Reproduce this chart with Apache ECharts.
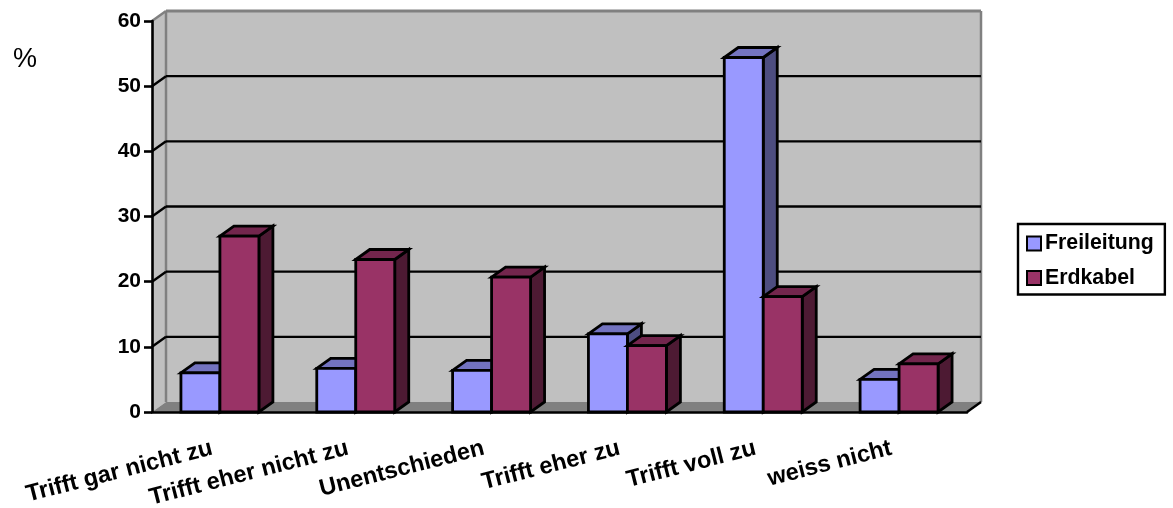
<!DOCTYPE html>
<html>
<head>
<meta charset="utf-8">
<style>html,body{margin:0;padding:0;background:#fff}#chart{width:1173px;height:508px}</style>
<script src="https://cdn.jsdelivr.net/npm/echarts@6/dist/echarts.min.js"></script>
</head>
<body>
<div id="chart"></div>
<script>
const categories = ['Trifft gar nicht zu', 'Trifft eher nicht zu', 'Unentschieden', 'Trifft eher zu', 'Trifft voll zu', 'weiss nicht'];
const freileitung = [6, 6.7, 6.4, 12, 54.4, 5];
const erdkabel = [27, 23.4, 20.7, 10.2, 17.7, 7.4];
const yTicks = [0, 10, 20, 30, 40, 50, 60];

const FONT = '"Liberation Sans", Arial, sans-serif';
const DEPTH_X = 14;   // receding offset of the pseudo-3D box
const DEPTH_Y = -10;
const BAR_SHARE = 0.287; // bar width as a share of the category band
const OUTLINE = 2.8;

const poly = (points, fill, stroke, lineWidth) => ({
  type: 'polygon',
  shape: { points },
  style: { fill, stroke: stroke || 'none', lineWidth: lineWidth || 0, lineJoin: 'miter' }
});
const seg = (x1, y1, x2, y2, stroke, lineWidth) => ({
  type: 'line',
  shape: { x1, y1, x2, y2 },
  style: { stroke, lineWidth }
});

// Back wall, side wall, floor and gridlines, placed from the value axis scale.
function renderRoom(params, api) {
  const g = params.coordSys;
  const l = g.x, r = g.x + g.width, t = g.y, b = g.y + g.height;
  const dx = DEPTH_X, dy = DEPTH_Y;
  const kids = [
    poly([[l, t], [l + dx, t + dy], [l + dx, b + dy], [l, b]], '#c0c0c0'),
    poly([[l + dx, t + dy], [r + dx, t + dy], [r + dx, b + dy], [l + dx, b + dy]], '#c0c0c0'),
    seg(l + dx, t + dy, r + dx, t + dy, '#808080', 3),
    seg(l + dx, t + dy, l + dx, b + dy, '#808080', 2.5),
    seg(r + dx, t + dy, r + dx, b + dy, '#808080', 2.5),
    seg(l, t, l + dx, t + dy, '#808080', 2.5),
    poly([[l, b], [l + dx, b + dy], [r + dx, b + dy], [r, b]], '#808080')
  ];
  yTicks.slice(1, -1).forEach(v => {
    const y = api.coord([0, v])[1];
    kids.push(seg(l, y, l + dx, y + dy, '#000', 2.4));
    kids.push(seg(l + dx, y + dy, r + dx, y + dy, '#000', 2.4));
  });
  kids.push(seg(r, b, r + dx, b + dy, '#000', 2.4));
  return { type: 'group', children: kids };
}

// One pseudo-3D column: front face, top face and right face.
function barRenderer(side, front, sideFace, topFace) {
  return function (params, api) {
    const top = api.coord([api.value(0), api.value(1)]);
    const base = api.coord([api.value(0), 0]);
    const w = api.size([1, 0])[0] * BAR_SHARE;
    const x0 = side < 0 ? top[0] - w : top[0];
    const x1 = x0 + w;
    const yT = top[1], yB = base[1];
    const dx = DEPTH_X, dy = DEPTH_Y;
    return {
      type: 'group',
      children: [
        poly([[x1, yT], [x1 + dx, yT + dy], [x1 + dx, yB + dy], [x1, yB]], sideFace, '#000', OUTLINE),
        poly([[x0, yT], [x0 + dx, yT + dy], [x1 + dx, yT + dy], [x1, yT]], topFace, '#000', OUTLINE),
        poly([[x0, yT], [x1, yT], [x1, yB], [x0, yB]], front, '#000', OUTLINE)
      ]
    };
  };
}

const chart = echarts.init(document.getElementById('chart'), null, { renderer: 'canvas' });
chart.setOption({
  animation: false,
  backgroundColor: '#fff',
  title: {
    text: '%', left: 8, top: 41,
    textStyle: { fontFamily: FONT, fontSize: 27, fontWeight: 'normal', color: '#000' }
  },
  legend: {
    orient: 'vertical', left: 1018, top: 224,
    padding: [9, 11, 6, 8], itemGap: 13.5, itemWidth: 14, itemHeight: 14,
    borderColor: '#000', borderWidth: 2.4, backgroundColor: '#fff', borderRadius: 0,
    icon: 'rect',
    data: ['Freileitung', 'Erdkabel'],
    textStyle: { fontFamily: FONT, fontSize: 21.3, fontWeight: 'bold', color: '#000', padding: [0, 0, 0, -1] }
  },
  grid: { left: 152, right: 206, top: 21, bottom: 96, containLabel: false, outerBoundsMode: 'none' },
  xAxis: {
    type: 'category', data: categories, z: 5,
    axisLine: { lineStyle: { color: '#000', width: 2.6 } },
    axisTick: { length: 8, lineStyle: { color: '#000', width: 2.6 } },
    axisLabel: {
      interval: 0, rotate: 14.3, margin: 34, hideOverlap: false,
      fontFamily: FONT, fontSize: 23.6, fontWeight: 'bold', color: '#000', padding: [0, 8, 0, 0]
    },
    splitLine: { show: false }
  },
  yAxis: {
    type: 'value', min: 0, max: 60, interval: 10, z: 5,
    axisLine: { show: true, lineStyle: { color: '#000', width: 2.6 } },
    axisTick: { show: true, length: 8, lineStyle: { color: '#000', width: 2.6 } },
    axisLabel: { margin: 11, fontFamily: FONT, fontSize: 21, fontWeight: 'bold', color: '#000' },
    splitLine: { show: false }
  },
  series: [
    { name: 'room', type: 'custom', z: 1, silent: true, data: [[0, 0]], renderItem: renderRoom, encode: { x: 0, y: 1 } },
    {
      name: 'Freileitung', type: 'custom', z: 2,
      data: freileitung.map((v, i) => [i, v]),
      encode: { x: 0, y: 1 },
      itemStyle: { color: '#9999ff', borderColor: '#000', borderWidth: 2.4 },
      renderItem: barRenderer(-1, '#9999ff', '#4d4d80', '#7373c0')
    },
    {
      name: 'Erdkabel', type: 'custom', z: 3,
      data: erdkabel.map((v, i) => [i, v]),
      encode: { x: 0, y: 1 },
      itemStyle: { color: '#993366', borderColor: '#000', borderWidth: 2.4 },
      renderItem: barRenderer(1, '#993366', '#4d1a33', '#73264d')
    }
  ]
});
</script>
</body>
</html>
